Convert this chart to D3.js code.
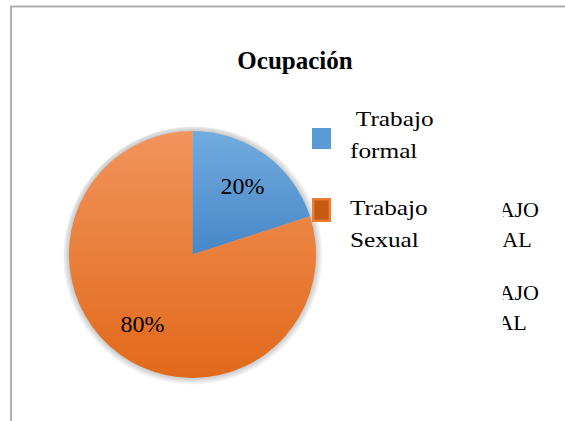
<!DOCTYPE html>
<html>
<head>
<meta charset="utf-8">
<script src="https://cdn.jsdelivr.net/npm/d3@7"></script>
</head>
<body style="margin:0">
<script>
// data
var categories = ["Trabajo formal", "Trabajo Sexual"];
var values = [20, 80];
var legendLines = [[" Trabajo", "formal"], ["Trabajo", "Sexual"]];
var hiddenLines = [["TRABAJO", "FORMAL"], ["TRABAJO", "SEXUAL"]];
var title = "Ocupación";

var width = 565, height = 421;
var cx = 192.5, cy = 254.5, radius = 123.5;

var svg = d3.select('body').append('svg')
    .attr('width', width)
    .attr('height', height);

function addText(parent) {
    return parent.append("text")
        .style("font-family", "'Liberation Serif', Tinos, 'Times New Roman', Times, serif")
        .attr("fill", "#000");
}

var defs = svg.append("defs");

// gradients per slice (light at top, darker at bottom), in the pie's local coords
var gradColors = [["#72abde", "#4787c8"], ["#f1945c", "#e2691a"]];
gradColors.forEach(function(c, i) {
    var gr = defs.append("linearGradient")
        .attr("id", "grad" + i)
        .attr("gradientUnits", "userSpaceOnUse")
        .attr("x1", 0).attr("y1", -radius)
        .attr("x2", 0).attr("y2", i == 0 ? 0 : radius);
    gr.append("stop").attr("offset", "0%").attr("stop-color", c[0]);
    gr.append("stop").attr("offset", "100%").attr("stop-color", c[1]);
});

// soft shadow ring behind the pie
var sh = defs.append("radialGradient")
    .attr("id", "shadowGrad")
    .attr("gradientUnits", "userSpaceOnUse")
    .attr("cx", 0).attr("cy", 0).attr("r", radius + 7);
sh.append("stop").attr("offset", "0%").attr("stop-color", "#000").attr("stop-opacity", 0.4);
sh.append("stop").attr("offset", (radius - 3) / (radius + 7)).attr("stop-color", "#000").attr("stop-opacity", 0.3);
sh.append("stop").attr("offset", "100%").attr("stop-color", "#000").attr("stop-opacity", 0);

// chart frame
svg.append("rect")
    .attr("x", 11).attr("y", 6.5)
    .attr("width", 600).attr("height", 500)
    .attr("fill", "none")
    .attr("stroke", "#a9a9a9")
    .attr("stroke-width", 1.8);

// title
addText(svg)
    .attr("x", 295)
    .attr("y", 69)
    .attr("text-anchor", "middle")
    .attr("font-size", 25)
    .attr("font-weight", "bold")
    .text(title);

// leftover text, mostly covered by the legend box
var hiddenBase = [217, 300];
hiddenLines.forEach(function(lines, i) {
    lines.forEach(function(t, j) {
        addText(svg)
            .attr("transform", "translate(440," + (hiddenBase[i] + j * 30) + ")")
            .attr("font-size", 22)
            .text(t);
    });
});
svg.append("rect")
    .attr("x", 436).attr("y", 190)
    .attr("width", 67).attr("height", 150)
    .attr("fill", "#fff");

// pie
var pie = d3.pie().sort(null).value(function(d) { return d; });
var arc = d3.arc().innerRadius(0).outerRadius(radius);
var labelArc = d3.arc().innerRadius(85).outerRadius(85);

var g = svg.append("g")
    .attr("transform", "translate(" + cx + "," + cy + ")");

g.append("circle")
    .attr("cx", 1.5).attr("cy", 2.5)
    .attr("r", radius + 7)
    .attr("fill", "url(#shadowGrad)");

g.selectAll("path")
    .data(pie(values))
    .enter()
    .append("path")
    .attr("d", arc)
    .attr("fill", function(d, i) { return "url(#grad" + i + ")"; });

pie(values).forEach(function(d) {
    addText(g)
        .attr("transform", "translate(" + labelArc.centroid(d) + ")")
        .attr("dy", "0.35em")
        .attr("text-anchor", "middle")
        .attr("font-size", 24)
        .text(d.data + "%");
});

// legend
var legendY = [128, 198];
var legendText = [126, 215];
categories.forEach(function(c, i) {
    if (i == 0) {
        svg.append("rect")
            .attr("x", 312).attr("y", legendY[i])
            .attr("width", 19).attr("height", 21)
            .attr("fill", "#5b9bd5");
    } else {
        svg.append("rect")
            .attr("x", 313.2).attr("y", legendY[i] + 1.2)
            .attr("width", 16.6).attr("height", 21.6)
            .attr("fill", "#c55a11")
            .attr("stroke", "#ed7d31")
            .attr("stroke-width", 2.4);
    }
    legendLines[i].forEach(function(t, j) {
        addText(svg)
            .attr("transform", "translate(350," + (legendText[i] + j * 32) + ") scale(1.15,1)")
            .attr("font-size", 22)
            .style("white-space", "pre")
            .text(t);
    });
});
</script>
</body>
</html>
